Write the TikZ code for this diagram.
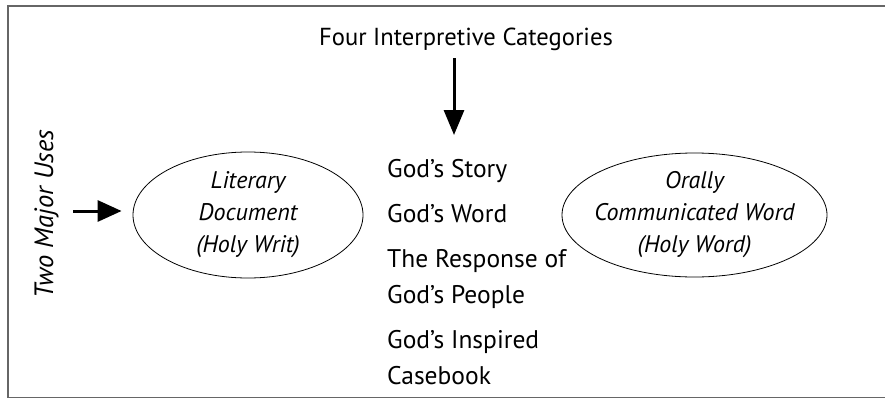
\documentclass[tikz,border=0pt]{standalone}
\usepackage{fontspec}
\setmainfont{PT Sans}
\usetikzlibrary{arrows.meta,shapes.geometric}
\begin{document}
\begin{tikzpicture}[x=1pt,y=-1pt,
  frame/.style={draw=black!60, line width=1.5pt},
  oval/.style={draw, ellipse, line width=0.8pt, inner sep=0pt},
  ovaltext/.style={align=center, inner sep=0pt, font=\itshape\fontsize{24}{32}\selectfont},
  item/.style={anchor=base west, align=left, inner sep=0pt, font=\fontsize{25.5}{36}\selectfont},
  label/.style={inner sep=0pt, font=\fontsize{24.6}{30}\selectfont},
  arr/.style={line width=3pt, -{Triangle[length=25pt,width=20pt]}}
]
\useasboundingbox (0,0) rectangle (885,399);
\draw[frame] (890,6) -- (8,6) -- (8,397.5) -- (890,397.5);

\node[label, anchor=base] (title) at (466,45) {Four Interpretive Categories};
\node[label, anchor=base, rotate=90, font=\itshape\fontsize{26.5}{30}\selectfont] (uses) at (53,214) {Two Major Uses};

\node[oval, minimum width=230pt, minimum height=126pt] (L) at (248,215) {};
\node[ovaltext] (Ltext) at (L.center) {Literary\\Document\\(Holy Writ)};
\node[oval, minimum width=265pt, minimum height=124pt] (R) at (694.5,215) {};
\node[ovaltext] (Rtext) at (R.center) {Orally\\Communicated Word\\(Holy Word)};

\node[item] (story) at (387,177) {God’s Story};
\node[item] (word) at (387,222) {God’s Word};
\node[item] (resp) at (387,303) {The Response of\\God’s People};
\node[item] (insp) at (387,384) {God’s Inspired\\Casebook};

\coordinate (ta) at (454,58);
\coordinate (tb) at (454,135);
\draw[arr] (ta) -- (tb);

\coordinate (la) at (73,211);
\draw[arr, -{Triangle[length=24pt,width=21pt]}, shorten >=11pt] (la) -- (L.west |- la);
\end{tikzpicture}
\end{document}
